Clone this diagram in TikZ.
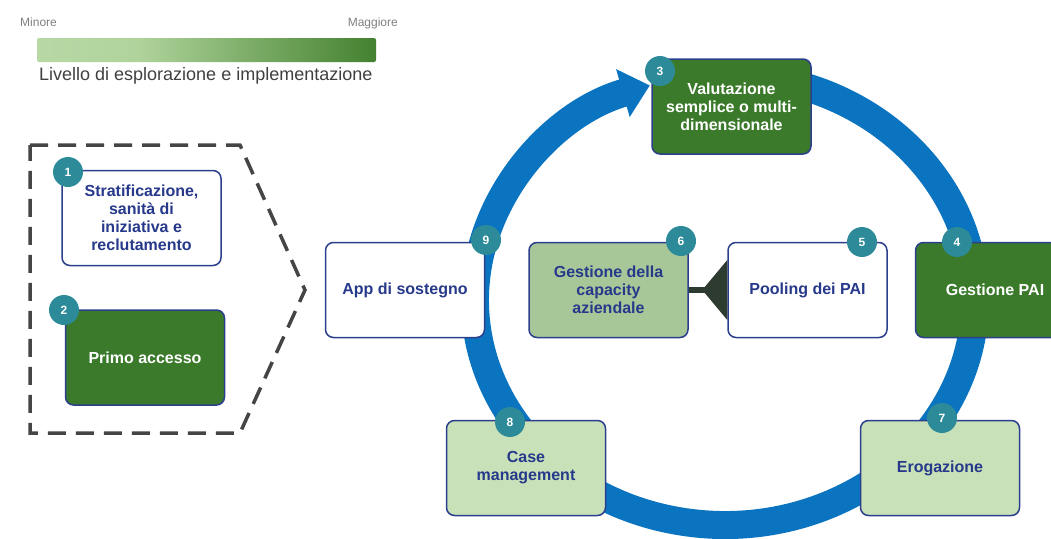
\documentclass[tikz,border=0pt]{standalone}
\usepackage{fontspec}
\setmainfont{Liberation Sans}
\usetikzlibrary{arrows.meta,calc}
\definecolor{ringblue}{HTML}{0B74C0}
\definecolor{dkgreen}{HTML}{3B7A2B}
\definecolor{ltgreen}{HTML}{C8E1B9}
\definecolor{mdgreen}{HTML}{A8C799}
\definecolor{navy}{HTML}{2B3F8C}
\definecolor{txtblue}{HTML}{26398A}
\definecolor{badgeteal}{HTML}{2C8A99}
\definecolor{conncol}{HTML}{2E3B30}
\definecolor{dashgray}{HTML}{454545}
\definecolor{barlight}{HTML}{C6E1B6}
\definecolor{barmid}{HTML}{AFD39B}
\definecolor{bardark}{HTML}{3A7A26}
\pgfdeclarehorizontalshading{levelbar}{100bp}{color(0bp)=(barlight); color(40bp)=(barmid); color(78bp)=(bardark); color(100bp)=(bardark)}
\tikzset{
  box/.style={rounded corners=8pt, draw=navy, line width=1.5pt, minimum width=159pt, minimum height=95pt,
    align=center, font=\bfseries\fontsize{16}{18}\selectfont, inner sep=2pt},
  whitebox/.style={box, fill=white, text=txtblue},
  darkbox/.style={box, fill=dkgreen, text=white},
  lightbox/.style={box, fill=ltgreen, text=txtblue},
  midbox/.style={box, fill=mdgreen, text=txtblue},
  badge/.style={circle, fill=badgeteal, minimum size=30pt, inner sep=0pt, text=white,
    font=\bfseries\fontsize{12}{12}\selectfont},
  ring/.style={line width=28pt, ringblue},
  dashpent/.style={draw=dashgray, line width=3.5pt, dash pattern=on 18pt off 10pt},
  conn/.style={draw=conncol, line width=6pt}
}
\begin{document}
\begin{tikzpicture}[x=1pt,y=1pt]
\useasboundingbox (0,0) rectangle (1051,-538);
\clip (0,0) rectangle (1051,-538);
% legend
\node[anchor=base west, inner sep=0pt, text=gray, font=\fontsize{12}{12}\selectfont] (minore) at (20,-26) {Minore};
\node[anchor=base east, inner sep=0pt, text=gray, font=\fontsize{12}{12}\selectfont] (maggiore) at (398,-26) {Maggiore};
\shade[shading=levelbar, rounded corners=2pt] (37,-38) rectangle (376,-62);
\node[anchor=base west, inner sep=0pt, text=black!75, font=\fontsize{18}{18}\selectfont] (livello) at (39,-80) {Livello di esplorazione e implementazione};
% dashed pentagon
\draw[dashpent] (30,-145) -- (240,-145) -- (305,-290) -- (240,-433) -- (30,-433) -- cycle;
% ring
\coordinate (ringc) at (725,-300);
\draw[ring, -{Triangle[width=48pt,length=28pt]}] ($(ringc)+(80:250pt and 225pt)$)
  arc[start angle=80, end angle=-252.5, x radius=250pt, y radius=225pt];
% boxes
\node[whitebox] (b1) at (141.5,-218) {Stratificazione,\\sanità di\\iniziativa e\\reclutamento};
\node[darkbox] (b2) at (145,-357.5) {Primo accesso};
\node[darkbox] (b3) at (731.5,-106.5) {Valutazione\\semplice o multi-\\dimensionale};
\node[darkbox] (b4) at (995,-290) {Gestione PAI};
\node[whitebox] (b5) at (807.5,-290) {Pooling dei PAI};
\node[midbox] (b6) at (608.5,-290) {Gestione della\\capacity\\aziendale};
\node[lightbox] (b7) at (940,-468) {Erogazione};
\node[lightbox] (b8) at (526,-468) {Case\\management};
\node[whitebox] (b9) at (405,-290) {App di sostegno};
% connector 5 -> 6
\draw[conn] (b6.east) -- (b5.west);
\fill[conncol] ($(b5.west)+(-25,0)$) -- ($(b5.west)+(0,30)$) -- ($(b5.west)+(0,-30)$) -- cycle;
% badges
\node[badge] (n1) at (68,-172) {1};
\node[badge] (n2) at (64,-310) {2};
\node[badge] (n3) at (660,-71) {3};
\node[badge] (n4) at (957,-242) {4};
\node[badge] (n5) at (862,-242) {5};
\node[badge] (n6) at (681,-241) {6};
\node[badge] (n7) at (942,-418) {7};
\node[badge] (n8) at (510,-422) {8};
\node[badge] (n9) at (486,-240) {9};
\end{tikzpicture}
\end{document}
